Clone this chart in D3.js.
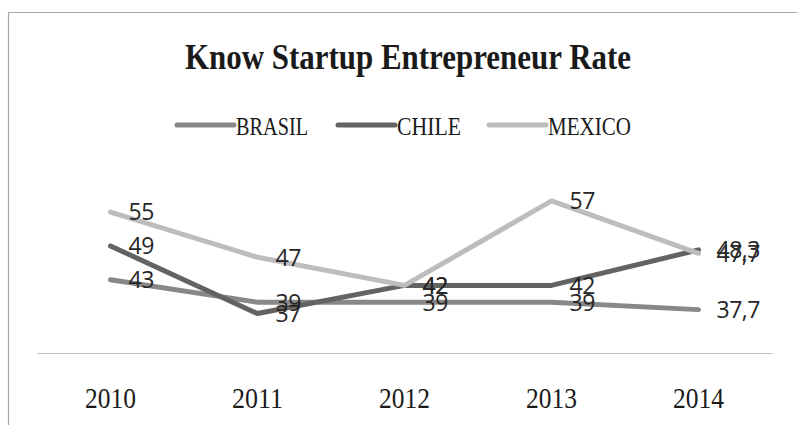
<!DOCTYPE html>
<html>
<head>
<meta charset="utf-8">
<script src="https://cdn.jsdelivr.net/npm/d3@7"></script>
<style>
  body { margin: 0; background: #fff; }
  svg { display: block; }
</style>
</head>
<body>
<svg id="chart" width="797" height="425"></svg>
<script>
/*  Data  */
const years  = ["2010", "2011", "2012", "2013", "2014"];
const brasil = [43, 39, 39, 39, 37.7];
const chile  = [49, 37, 42, 42, 48.3];
const mexico = [55, 47, 42, 57, 47.7];

const series = [
  {name: "BRASIL", values: brasil, color: "#888888"},
  {name: "CHILE",  values: chile,  color: "#636363"},
  {name: "MEXICO", values: mexico, color: "#bdbdc0"}
];

const fmt = v => String(v).replace(".", ",");

/*  Dimensions  */
const svg = d3.select("#chart");
const plot = {left: 37, right: 772, top: 184, bottom: 353};

// chart frame (only top + left visible in the crop)
svg.append("path")
  .attr("d", "M8.5,425 V12.5 H797")
  .attr("fill", "none")
  .attr("stroke", "#a6a6a6")
  .attr("stroke-width", 1.2);

const xScale = d3.scaleBand().domain(years).range([plot.left, plot.right]);
const yScale = d3.scaleLinear().domain([30, 60]).range([plot.bottom, plot.top]);
const xc = d => xScale(d) + xScale.bandwidth() / 2;

/* ---------- Title ---------- */
svg.append("text")
  .attr("x", 408)
  .attr("y", 69)
  .attr("text-anchor", "middle")
  .attr("font-family", "Liberation Serif, Times New Roman, serif")
  .attr("font-weight", "bold")
  .attr("font-size", 35)
  .attr("textLength", 446)
  .attr("lengthAdjust", "spacingAndGlyphs")
  .attr("fill", "#1a1a1a")
  .text("Know Startup Entrepreneur Rate");

/* ---------- Legend ---------- */
const legendX = [177, 338, 489];
const legendW = [72, 64, 83];
const legend = svg.selectAll(".legend").data(series).join("g")
  .attr("class", "legend")
  .attr("transform", (d, i) => `translate(${legendX[i]},125)`);

legend.append("line")
  .attr("x1", 0).attr("x2", 57)
  .attr("stroke", d => d.color)
  .attr("stroke-width", 5)
  .attr("stroke-linecap", "round");

legend.append("text")
  .attr("x", 59)
  .attr("y", 10)
  .attr("font-family", "Liberation Serif, Times New Roman, serif")
  .attr("font-size", 25)
  .attr("textLength", (d, i) => legendW[i])
  .attr("lengthAdjust", "spacingAndGlyphs")
  .attr("fill", "#1a1a1a")
  .text(d => d.name);

/* ---------- Axis ---------- */
const xAxis = d3.axisBottom(xScale).tickSize(0).tickPadding(34);
const axisG = svg.append("g")
  .attr("transform", `translate(0,${plot.bottom})`)
  .call(xAxis);
axisG.select(".domain").attr("stroke", "#bfbfbf").attr("stroke-width", 1.2);
axisG.selectAll(".tick text")
  .attr("font-family", "Liberation Serif, Times New Roman, serif")
  .attr("font-size", 29)
  .attr("textLength", 51)
  .attr("lengthAdjust", "spacingAndGlyphs")
  .attr("fill", "#1a1a1a");

/* ---------- Lines ---------- */
const lineGen = d3.line()
  .x((d, i) => xc(years[i]))
  .y(d => yScale(d));

svg.selectAll(".series-line").data(series).join("path")
  .attr("class", "series-line")
  .attr("d", d => lineGen(d.values))
  .attr("fill", "none")
  .attr("stroke", d => d.color)
  .attr("stroke-width", 5)
  .attr("stroke-linecap", "round")
  .attr("stroke-linejoin", "round");

/* ---------- Data labels ---------- */
series.forEach(s => {
  svg.selectAll(null).data(s.values).join("text")
    .attr("x", (d, i) => xc(years[i]) + 18)
    .attr("y", d => yScale(d))
    .attr("dy", "0.36em")
    .attr("font-family", "Open Sans, sans-serif")
    .attr("font-size", 23)
    .attr("letter-spacing", -0.5)
    .attr("fill", "#262626")
    .text(d => fmt(d));
});
</script>
</body>
</html>
